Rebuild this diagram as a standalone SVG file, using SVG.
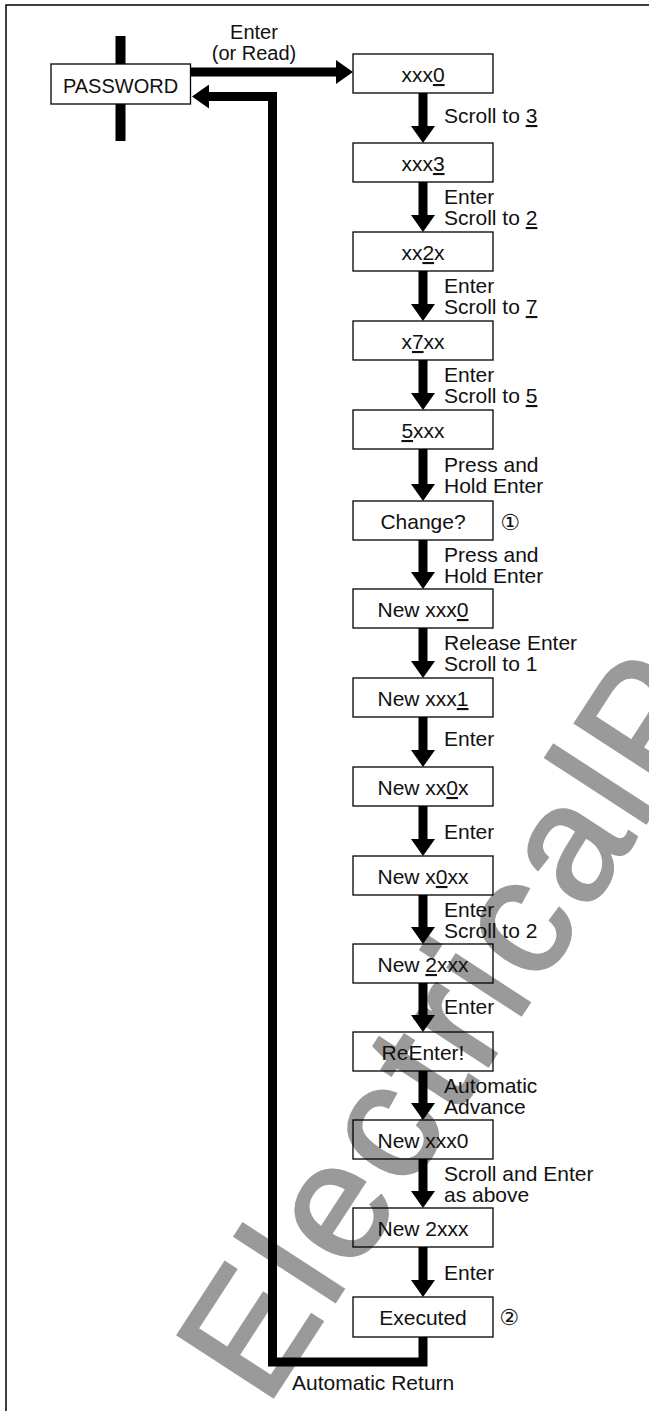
<svg xmlns="http://www.w3.org/2000/svg" width="649" height="1411" viewBox="0 0 649 1411">
<style>
  .box { fill: none; stroke: #000; stroke-width: 1.3; }
  .bt { font-family: "Liberation Sans", Arial, sans-serif; font-size: 21px; fill: #111; text-anchor: middle; }
  .lb { font-family: "Liberation Sans", Arial, sans-serif; font-size: 21px; fill: #111; }
  .u { text-decoration: underline; }
  .cn { font-family: "DejaVu Sans", sans-serif; font-size: 22px; fill: #111; text-anchor: middle; }
  .conn { fill: none; stroke: #000; stroke-width: 9; stroke-linejoin: miter; }
  .wm { font-family: "Liberation Sans", Arial, sans-serif; font-size: 165px; letter-spacing: 6px; fill: #9a9a9a; stroke: #9a9a9a; stroke-width: 3; }
</style>
<defs>
  <marker id="ah" markerUnits="userSpaceOnUse" viewBox="0 -12 17 24" markerWidth="17" markerHeight="24" refX="1" refY="0" orient="auto">
    <path d="M0,-12 L17,0 L0,12 Z" fill="#000"/>
  </marker>
</defs>
<rect width="649" height="1411" fill="#fff"/>
<text class="wm" transform="translate(266,1408) rotate(-57)">ElectricalP</text>
<g id="frame" stroke="#000" stroke-width="1.5" fill="none">
  <path d="M6,1411 V5 H649"/>
</g>
<g id="password">
  <line x1="120.5" y1="36" x2="120.5" y2="141" stroke="#000" stroke-width="10"/>
  <rect x="51" y="64" width="139.5" height="40" fill="#fff" stroke="#000" stroke-width="1.3"/>
  <text class="bt" x="120.5" y="93" style="font-size:20px">PASSWORD</text>
</g>
<g id="connectors">
  <line class="conn" x1="190" y1="72" x2="337" y2="72" stroke-width="10" marker-end="url(#ah)"/>
  <path class="conn" d="M423,1337 V1362 H272.5 V96.5 H208" marker-end="url(#ah)"/>
  <line class="conn" x1="423" y1="93" x2="423" y2="127" marker-end="url(#ah)"/>
  <line class="conn" x1="423" y1="182" x2="423" y2="216" marker-end="url(#ah)"/>
  <line class="conn" x1="423" y1="271" x2="423" y2="305" marker-end="url(#ah)"/>
  <line class="conn" x1="423" y1="360" x2="423" y2="394" marker-end="url(#ah)"/>
  <line class="conn" x1="423" y1="449" x2="423" y2="485" marker-end="url(#ah)"/>
  <line class="conn" x1="423" y1="540" x2="423" y2="573" marker-end="url(#ah)"/>
  <line class="conn" x1="423" y1="628" x2="423" y2="662" marker-end="url(#ah)"/>
  <line class="conn" x1="423" y1="717" x2="423" y2="751" marker-end="url(#ah)"/>
  <line class="conn" x1="423" y1="806" x2="423" y2="840" marker-end="url(#ah)"/>
  <line class="conn" x1="423" y1="895" x2="423" y2="928" marker-end="url(#ah)"/>
  <line class="conn" x1="423" y1="983" x2="423" y2="1016" marker-end="url(#ah)"/>
  <line class="conn" x1="423" y1="1071" x2="423" y2="1104" marker-end="url(#ah)"/>
  <line class="conn" x1="423" y1="1159" x2="423" y2="1192" marker-end="url(#ah)"/>
  <line class="conn" x1="423" y1="1247" x2="423" y2="1281" marker-end="url(#ah)"/>
</g>
<g id="labels">
  <text class="bt" x="254" y="39" style="font-size:20px">Enter</text>
  <text class="bt" x="254" y="60" style="font-size:20px">(or Read)</text>
  <text class="lb" x="444" y="123">Scroll to <tspan class="u">3</tspan></text>
  <text class="lb" x="444" y="204">Enter</text>
  <text class="lb" x="444" y="225">Scroll to <tspan class="u">2</tspan></text>
  <text class="lb" x="444" y="293">Enter</text>
  <text class="lb" x="444" y="314">Scroll to <tspan class="u">7</tspan></text>
  <text class="lb" x="444" y="382">Enter</text>
  <text class="lb" x="444" y="403">Scroll to <tspan class="u">5</tspan></text>
  <text class="lb" x="444" y="472">Press and</text>
  <text class="lb" x="444" y="493">Hold Enter</text>
  <text class="lb" x="444" y="562">Press and</text>
  <text class="lb" x="444" y="583">Hold Enter</text>
  <text class="lb" x="444" y="650">Release Enter</text>
  <text class="lb" x="444" y="671">Scroll to 1</text>
  <text class="lb" x="444" y="746">Enter</text>
  <text class="lb" x="444" y="839">Enter</text>
  <text class="lb" x="444" y="917">Enter</text>
  <text class="lb" x="444" y="938">Scroll to 2</text>
  <text class="lb" x="444" y="1014">Enter</text>
  <text class="lb" x="444" y="1093">Automatic</text>
  <text class="lb" x="444" y="1114">Advance</text>
  <text class="lb" x="444" y="1181">Scroll and Enter</text>
  <text class="lb" x="444" y="1202">as above</text>
  <text class="lb" x="444" y="1280">Enter</text>
  <text class="lb" x="292" y="1390">Automatic Return</text>
</g>
<g id="n1"><rect class="box" x="353" y="54" width="140" height="39"/><text class="bt" x="423" y="82">xxx<tspan class="u">0</tspan></text></g>
<g id="n2"><rect class="box" x="353" y="143" width="140" height="39"/><text class="bt" x="423" y="171">xxx<tspan class="u">3</tspan></text></g>
<g id="n3"><rect class="box" x="353" y="232" width="140" height="39"/><text class="bt" x="423" y="260">xx<tspan class="u">2</tspan>x</text></g>
<g id="n4"><rect class="box" x="353" y="321" width="140" height="39"/><text class="bt" x="423" y="349">x<tspan class="u">7</tspan>xx</text></g>
<g id="n5"><rect class="box" x="353" y="410" width="140" height="39"/><text class="bt" x="423" y="438"><tspan class="u">5</tspan>xxx</text></g>
<g id="n6"><rect class="box" x="353" y="501" width="140" height="39"/><text class="bt" x="423" y="529">Change?</text><text class="cn" x="510" y="530">&#x2460;</text></g>
<g id="n7"><rect class="box" x="353" y="589" width="140" height="39"/><text class="bt" x="423" y="617">New xxx<tspan class="u">0</tspan></text></g>
<g id="n8"><rect class="box" x="353" y="678" width="140" height="39"/><text class="bt" x="423" y="706">New xxx<tspan class="u">1</tspan></text></g>
<g id="n9"><rect class="box" x="353" y="767" width="140" height="39"/><text class="bt" x="423" y="795">New xx<tspan class="u">0</tspan>x</text></g>
<g id="n10"><rect class="box" x="353" y="856" width="140" height="39"/><text class="bt" x="423" y="884">New x<tspan class="u">0</tspan>xx</text></g>
<g id="n11"><rect class="box" x="353" y="944" width="140" height="39"/><text class="bt" x="423" y="972">New <tspan class="u">2</tspan>xxx</text></g>
<g id="n12"><rect class="box" x="353" y="1032" width="140" height="39"/><text class="bt" x="423" y="1060">ReEnter!</text></g>
<g id="n13"><rect class="box" x="353" y="1120" width="140" height="39"/><text class="bt" x="423" y="1148">New xxx0</text></g>
<g id="n14"><rect class="box" x="353" y="1208" width="140" height="39"/><text class="bt" x="423" y="1236">New 2xxx</text></g>
<g id="n15"><rect class="box" x="353" y="1297" width="140" height="40"/><text class="bt" x="423" y="1325">Executed</text><text class="cn" x="509" y="1325">&#x2461;</text></g>
</svg>
